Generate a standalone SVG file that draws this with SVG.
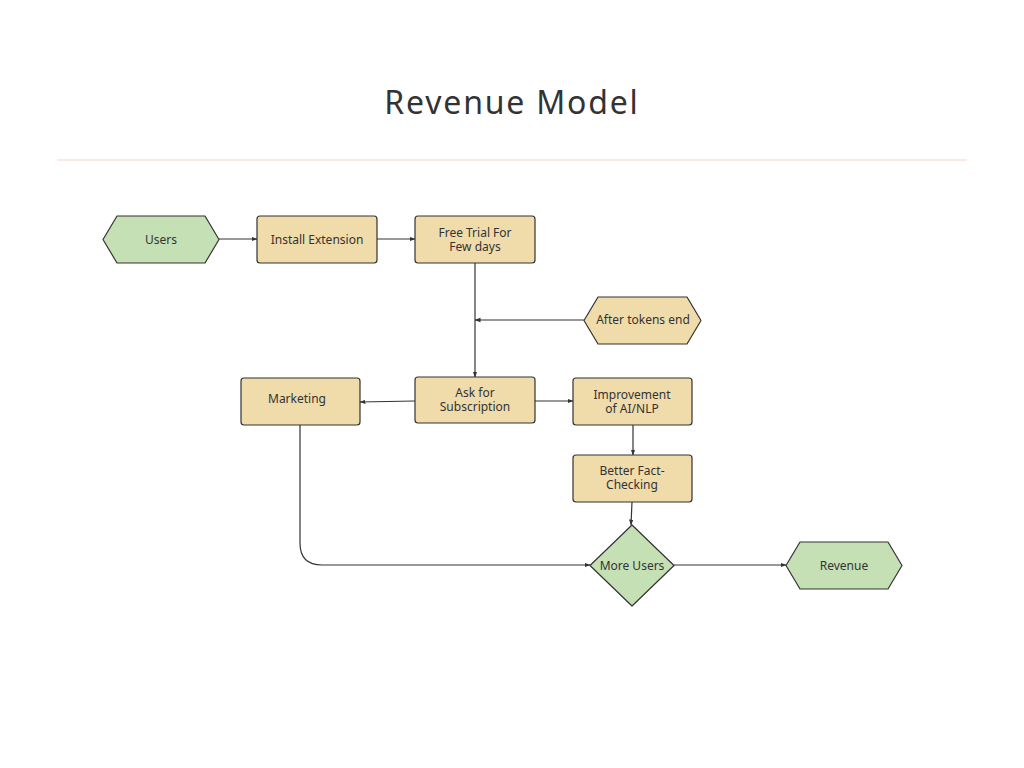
<svg xmlns="http://www.w3.org/2000/svg" width="1024" height="768" viewBox="0 0 1024 768">
<defs>
<marker id="ah" viewBox="0 0 6 6" refX="5.5" refY="3" markerWidth="6" markerHeight="6" markerUnits="userSpaceOnUse" orient="auto">
<path d="M0,0.8 L6,3 L0,5.2 z" fill="#333"/>
</marker>
<style>
.t{fill:#f0dbab;stroke:#333;stroke-width:1.2}
.g{fill:#c5e0b5;stroke:#333;stroke-width:1.2}
.lbl{font-family:"Noto Sans","Liberation Sans",sans-serif;font-size:12px;fill:#333;text-anchor:middle}
.c{fill:none;stroke:#333;stroke-width:1.2;marker-end:url(#ah)}
</style>
</defs>
<rect width="1024" height="768" fill="#fff"/>
<text x="512" y="114" font-family="'Noto Sans','Liberation Sans',sans-serif" font-size="32" fill="#333" text-anchor="middle" letter-spacing="1.8">Revenue Model</text>
<line x1="57" y1="160" x2="967" y2="160" stroke="#f2d3c4" stroke-width="1.2"/>
<g id="connectors">
<path class="c" d="M219,239 H257"/>
<path class="c" d="M377,239 H415"/>
<path class="c" d="M475,263 V377"/>
<path class="c" d="M584,320 H475"/>
<path class="c" d="M415,401 L360,402"/>
<path class="c" d="M535,401 H573"/>
<path class="c" d="M633,425 V455"/>
<path class="c" d="M632,502 L631,525"/>
<path class="c" d="M300,425 V543 Q300,565 322,565 H590"/>
<path class="c" d="M674,565 H786"/>
</g>
<g id="users"><path class="g" d="M103,239.5 L117,216 H205 L219,239.5 L205,263 H117 z" stroke-linejoin="round"/><text class="lbl" x="161" y="243.5">Users</text></g>
<g id="install"><rect class="t" x="257" y="216" width="120" height="47" rx="3"/><text class="lbl" x="317" y="243.5">Install Extension</text></g>
<g id="trial"><rect class="t" x="415" y="216" width="120" height="47" rx="3"/><text class="lbl" x="475" y="236.5">Free Trial For</text><text class="lbl" x="475" y="251">Few days</text></g>
<g id="tokens"><path class="t" d="M584,320.5 L598,297 H687 L701,320.5 L687,344 H598 z" stroke-linejoin="round"/><text class="lbl" x="643" y="324" font-size="11">After tokens end</text></g>
<g id="ask"><rect class="t" x="415" y="377" width="120" height="46" rx="3"/><text class="lbl" x="475" y="396.5">Ask for</text><text class="lbl" x="475" y="411">Subscription</text></g>
<g id="marketing"><rect class="t" x="241" y="378" width="119" height="47" rx="3"/><text class="lbl" x="297" y="403">Marketing</text></g>
<g id="improvement"><rect class="t" x="573" y="378" width="119" height="47" rx="3"/><text class="lbl" x="632" y="398.5">Improvement</text><text class="lbl" x="632" y="413">of AI/NLP</text></g>
<g id="better"><rect class="t" x="573" y="455" width="119" height="47" rx="3"/><text class="lbl" x="632" y="474.5">Better Fact-</text><text class="lbl" x="632" y="489">Checking</text></g>
<g id="moreusers"><path class="g" d="M632,525 L674,565.5 L632,606 L590,565.5 z" stroke-linejoin="round"/><text class="lbl" x="632" y="569.5">More Users</text></g>
<g id="revenue"><path class="g" d="M786,565.5 L800,542 H888 L902,565.5 L888,589 H800 z" stroke-linejoin="round"/><text class="lbl" x="844" y="569.5">Revenue</text></g>
</svg>
